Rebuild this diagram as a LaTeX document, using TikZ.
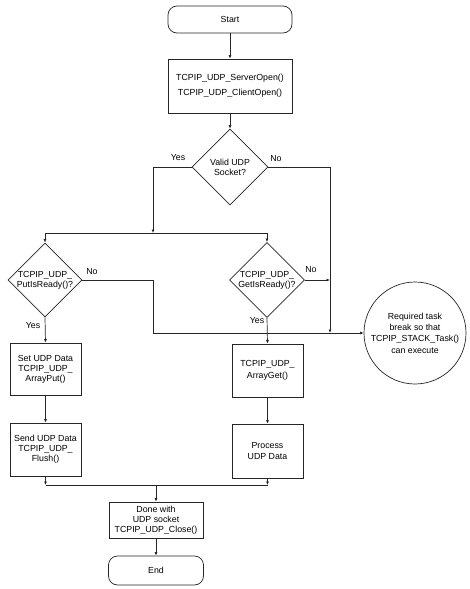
\documentclass[tikz,border=0pt]{standalone}
\usepackage{fontspec}
\setmainfont{Liberation Sans}
\usetikzlibrary{shapes.geometric,arrows.meta}
\begin{document}
\begin{tikzpicture}[x=1pt,y=-1pt,
  every node/.style={font=\fontsize{8.8}{10}\selectfont},
  line/.style={draw=black!85,line width=0.7pt},
  arr/.style={line,-{Latex[length=3.5pt,width=3pt]}},
  term/.style={draw=black!85,line width=0.7pt,fill=white,rounded corners=9pt,inner sep=0pt,align=center},
  proc/.style={draw=black!85,line width=0.7pt,fill=white,inner sep=0pt,align=center},
  dec/.style={draw=black!85,line width=0.7pt,fill=white,diamond,inner sep=0pt,align=center},
  lbl/.style={inner sep=0pt}]
\useasboundingbox (0,0) rectangle (469,589);
\node[term,minimum width=124pt,minimum height=27pt] (start) at (230,19.5) {Start};
\node[proc,minimum width=124pt,minimum height=54pt,font=\fontsize{8.8}{15}\selectfont] (open) at (230,86) {TCPIP\_UDP\_ServerOpen()\\TCPIP\_UDP\_ClientOpen()};
\node[dec,minimum width=76pt,minimum height=76pt] (valid) at (230,167) {Valid UDP\\Socket?};
\node[dec,minimum width=74pt,minimum height=72pt] (put) at (45,280) {TCPIP\_UDP\_\\PutIsReady()?};
\node[dec,minimum width=71pt,minimum height=71pt] (get) at (267,280) {TCPIP\_UDP\_\\GetIsReady()?};
\node[circle,draw=black!85,line width=0.7pt,fill=white,minimum size=102pt,inner sep=0pt,align=center,font=\fontsize{8.8}{11.3}\selectfont] (task) at (415,333) {Required task\\break so that\\TCPIP\_STACK\_Task()\\can execute};
\node[proc,minimum width=71pt,minimum height=52pt] (set) at (45.5,369) {Set UDP Data\\TCPIP\_UDP\_\\ArrayPut()};
\node[proc,minimum width=71pt,minimum height=53pt] (send) at (45.5,449.5) {Send UDP Data\\TCPIP\_UDP\_\\Flush()};
\node[proc,minimum width=71pt,minimum height=53pt,font=\fontsize{8.8}{11.5}\selectfont] (aget) at (267.5,370.5) {TCPIP\_UDP\_\\ArrayGet()};
\node[proc,minimum width=71pt,minimum height=54pt,font=\fontsize{8.8}{11.5}\selectfont] (procd) at (267.5,451) {Process\\UDP Data};
\node[proc,minimum width=94pt,minimum height=36pt] (done) at (156,520) {Done with\\UDP socket\\TCPIP\_UDP\_Close()};
\node[term,minimum width=95pt,minimum height=29pt] (end) at (156,570.5) {End};
\coordinate (jy) at (153,233);
\coordinate (k) at (330,333);
\coordinate (m) at (153,333);
\coordinate (bl) at (45.5,485);
\coordinate (br) at (267.5,485);
\coordinate (bm) at (156,485);
\draw[arr] (start) -- (open);
\draw[arr] (open) -- (valid);
\draw[arr] (valid.west) -| (jy);
\draw[arr] (jy) -| (put.north);
\draw[arr] (jy) -| (get.north);
\draw[arr] (valid.east) -| (k);
\draw[arr] (get.east) -- (get.east -| k);
\draw[line] (put.east) -| (m) -- (k);
\draw[arr] (k) -- (task.west);
\draw[arr] (put.south) -- (set.north);
\draw[arr] (set.south) -- (send.north);
\draw[arr] (get.south) -- (aget.north);
\draw[arr] (aget.south) -- (procd.north);
\draw[arr] (send.south) -- (bl);
\draw[arr] (procd.south) -- (br);
\draw[line] (bl) -- (br);
\draw[arr] (bm) -- (done.north);
\draw[arr] (done.south) -- (end.north);
\node[lbl] (l1) at (178,158) {Yes};
\node[lbl] (l2) at (276,159) {No};
\node[lbl] (l3) at (92,272) {No};
\node[lbl] (l4) at (33,326) {Yes};
\node[lbl] (l5) at (311,270) {No};
\node[lbl] (l6) at (257,321) {Yes};
\end{tikzpicture}
\end{document}
